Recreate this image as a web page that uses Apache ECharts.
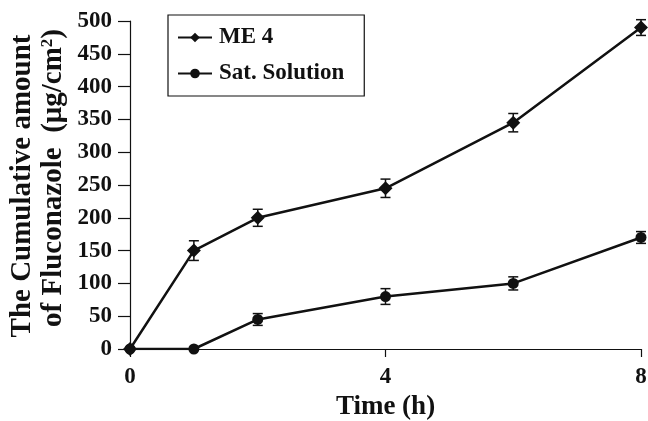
<!DOCTYPE html>
<html>
<head>
<meta charset="utf-8">
<script src="https://cdn.jsdelivr.net/npm/echarts@6/dist/echarts.min.js"></script>
<style>
html,body{margin:0;padding:0;background:#fff;}
#chart{width:648px;height:421px;}
</style>
</head>
<body>
<div id="chart"></div>
<script>
var timeHours = [0, 1, 2, 4, 6, 8];
var me4Values = [0, 150, 200, 245, 345, 490];
var me4Errors = [0, 15, 13, 14, 14, 12];
var satValues = [0, 0, 45, 80, 100, 170];
var satErrors = [0, 0, 9, 12, 10, 9];
var xTicks = [0, 4, 8];
var yTicks = [0, 50, 100, 150, 200, 250, 300, 350, 400, 450, 500];

var FONT = 'Liberation Serif';

function pairs(xs, ys) { return xs.map(function (x, i) { return [x, ys[i]]; }); }
function errData(xs, ys, es) { return xs.map(function (x, i) { return [x, ys[i] - es[i], ys[i] + es[i]]; }); }

function errRender(params, api) {
  var x = api.value(0);
  var lo = api.coord([x, api.value(1)]);
  var hi = api.coord([x, api.value(2)]);
  if (Math.abs(lo[1] - hi[1]) < 1) return null;
  var w = 5;
  var st = { stroke: '#111', lineWidth: 1.5 };
  return {
    type: 'group',
    children: [
      { type: 'line', shape: { x1: lo[0], y1: lo[1], x2: hi[0], y2: hi[1] }, style: st },
      { type: 'line', shape: { x1: lo[0] - w, y1: lo[1], x2: lo[0] + w, y2: lo[1] }, style: st },
      { type: 'line', shape: { x1: hi[0] - w, y1: hi[1], x2: hi[0] + w, y2: hi[1] }, style: st }
    ]
  };
}

var chart = echarts.init(document.getElementById('chart'));
chart.setOption({
  animation: false,
  backgroundColor: '#fff',
  grid: { left: 130, right: 7, top: 21, bottom: 72, containLabel: false, outerBoundsMode: 'none' },
  legend: {
    orient: 'vertical',
    left: 168, top: 15,
    padding: [11, 20, 11, 9],
    itemGap: 13,
    itemWidth: 34, itemHeight: 12,
    borderColor: '#111', borderWidth: 1.2,
    textStyle: { fontFamily: FONT, fontWeight: 'bold', fontSize: 23, color: '#111', padding: [0, 0, 0, 2] },
    data: ['ME 4', 'Sat. Solution']
  },
  xAxis: {
    type: 'value', min: 0, max: 8, interval: 4,
    name: 'Time (h)', nameLocation: 'middle', nameGap: 44,
    nameTextStyle: { fontFamily: FONT, fontWeight: 'bold', fontSize: 27, color: '#111' },
    axisLine: { lineStyle: { color: '#111', width: 1.2 } },
    axisTick: { show: true, length: 8, lineStyle: { color: '#111', width: 1.2 } },
    axisLabel: { fontFamily: FONT, fontWeight: 'bold', fontSize: 23, color: '#111', margin: 17,
      customValues: xTicks },
    splitLine: { show: false }
  },
  yAxis: {
    type: 'value', min: 0, max: 500, interval: 50,
    axisLine: { show: true, lineStyle: { color: '#111', width: 1.2 } },
    axisTick: { show: true, length: 12, lineStyle: { color: '#111', width: 1.2 } },
    axisLabel: { fontFamily: FONT, fontWeight: 'bold', fontSize: 23, color: '#111', margin: 18 },
    splitLine: { show: false }
  },
  graphic: [
    {
      type: 'text', x: 23, y: 186, rotation: Math.PI / 2,
      style: { text: 'The Cumulative amount', fontFamily: FONT, fontWeight: 'bold', fontSize: 29, fill: '#111',
        align: 'center', verticalAlign: 'middle' }
    },
    {
      type: 'text', x: 54, y: 178, rotation: Math.PI / 2,
      style: { text: 'of Fluconazole  (\u03bcg/cm{sup|2})', fontFamily: FONT, fontWeight: 'bold', fontSize: 29, fill: '#111',
        align: 'center', verticalAlign: 'middle',
        rich: { sup: { fontFamily: FONT, fontWeight: 'bold', fontSize: 17, fill: '#111', verticalAlign: 'top', padding: [0, 0, 13, 0] } } }
    }
  ],
  series: [
    {
      name: 'ME 4', type: 'line', data: pairs(timeHours, me4Values),
      symbol: 'diamond', symbolSize: 14, showAllSymbol: true,
      lineStyle: { color: '#111', width: 2.5 }, itemStyle: { color: '#111' }, z: 3
    },
    {
      name: 'Sat. Solution', type: 'line', data: pairs(timeHours, satValues),
      symbol: 'circle', symbolSize: 11, showAllSymbol: true,
      lineStyle: { color: '#111', width: 2.5 }, itemStyle: { color: '#111' }, z: 3
    },
    { type: 'custom', renderItem: errRender, data: errData(timeHours, me4Values, me4Errors), z: 4, silent: true },
    { type: 'custom', renderItem: errRender, data: errData(timeHours, satValues, satErrors), z: 4, silent: true }
  ]
});
</script>
</body>
</html>
